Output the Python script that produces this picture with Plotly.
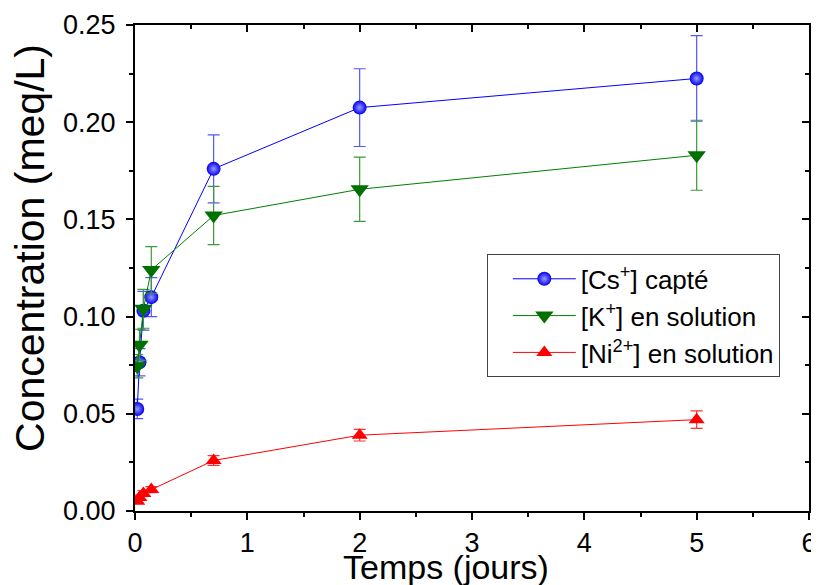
import plotly.graph_objects as go

# Data
time_days = [0.02, 0.04, 0.075, 0.145, 0.70, 2.0, 5.0]
cs_capte = [0.0525, 0.0765, 0.103, 0.110, 0.176, 0.2075, 0.2225]
cs_err = [0.005, 0.007, 0.010, 0.010, 0.0175, 0.020, 0.022]
k_solution = [0.0745, 0.0855, 0.104, 0.124, 0.152, 0.1655, 0.183]
k_err = [0.006, 0.008, 0.010, 0.012, 0.015, 0.0165, 0.018]
ni_solution = [0.005, 0.007, 0.009, 0.011, 0.026, 0.039, 0.047]
ni_err = [0.001, 0.0012, 0.0015, 0.0015, 0.0025, 0.003, 0.0045]

x_ticks = [0, 1, 2, 3, 4, 5, 6]
y_ticks = [0.00, 0.05, 0.10, 0.15, 0.20, 0.25]
y_tick_labels = ["0.00", "0.05", "0.10", "0.15", "0.20", "0.25"]
x_title = "Temps (jours)"
y_title = "Concentration (meq/L)"

FONT = "Liberation Sans, Arial, sans-serif"

fig = go.Figure()

fig.add_trace(go.Scatter(
    x=time_days, y=cs_capte, mode="lines+markers",
    name="[Cs<sup>+</sup>] capté",
    line=dict(color="#0000ff", width=1),
    marker=dict(symbol="circle", size=14, color="#0000ee",
                gradient=dict(type="radial", color="#9999ff")),
    error_y=dict(type="data", array=cs_err, visible=True, color="#5555ff",
                 thickness=1.2, width=6),
))
fig.add_trace(go.Scatter(
    x=time_days, y=k_solution, mode="lines+markers",
    name="[K<sup>+</sup>] en solution",
    line=dict(color="#008000", width=1),
    marker=dict(symbol="triangle-down", size=16, color="#007000"),
    error_y=dict(type="data", array=k_err, visible=True, color="#3a9a3a",
                 thickness=1.2, width=6),
))
fig.add_trace(go.Scatter(
    x=time_days, y=ni_solution, mode="lines+markers",
    name="[Ni<sup>2+</sup>] en solution",
    line=dict(color="#ff0000", width=1),
    marker=dict(symbol="triangle-up", size=14, color="#ff0000"),
    error_y=dict(type="data", array=ni_err, visible=True, color="#ff3333",
                 thickness=1.2, width=6),
))

# invisible trace for top/right inward ticks
fig.add_trace(go.Scatter(x=[0], y=[0], xaxis="x2", yaxis="y2",
                         mode="markers", marker=dict(opacity=0),
                         showlegend=False, hoverinfo="skip"))

axis_common = dict(showgrid=False, zeroline=False, showline=True,
                   linecolor="black", linewidth=2, ticklen=7, tickwidth=2,
                   tickcolor="black", automargin=False)

# The page body has an 8px margin, so the figure is sized to fit the window.
fig.update_layout(
    width=811, height=577,
    margin=dict(l=127, r=10, t=17, b=74),
    paper_bgcolor="white", plot_bgcolor="white",
    font=dict(family=FONT, color="black"),
    xaxis=dict(range=[0, 6], tickvals=x_ticks, ticks="outside",
               tickfont=dict(size=27), ticklabelstandoff=0,
               minor=dict(ticks="outside", ticklen=4, tickwidth=2,
                          tickcolor="black", dtick=0.5),
               **axis_common),
    yaxis=dict(range=[0, 0.25], tickvals=y_ticks, ticktext=y_tick_labels,
               ticks="outside", tickfont=dict(size=27), ticklabelstandoff=5,
               minor=dict(ticks="outside", ticklen=4, tickwidth=2,
                          tickcolor="black", dtick=0.025),
               **axis_common),
    xaxis2=dict(range=[0, 6], overlaying="x", side="top", tickvals=x_ticks,
                ticks="inside", showticklabels=False, anchor="y",
                minor=dict(ticks="inside", ticklen=4, tickwidth=2,
                           tickcolor="black", dtick=0.5),
                **axis_common),
    yaxis2=dict(range=[0, 0.25], overlaying="y", side="right", tickvals=y_ticks,
                ticks="inside", showticklabels=False, anchor="x",
                minor=dict(ticks="inside", ticklen=4, tickwidth=2,
                           tickcolor="black", dtick=0.025),
                **axis_common),
    legend=dict(x=0.522, y=0.528, xanchor="left", yanchor="top",
                bgcolor="white", bordercolor="#444444", borderwidth=1,
                font=dict(size=26, family=FONT), tracegroupgap=0,
                itemwidth=63, indentation=20),
    showlegend=True,
    annotations=[
        dict(text=x_title, xref="paper", yref="paper", x=0.461, y=-0.115,
             xanchor="center", yanchor="middle", showarrow=False,
             font=dict(size=34, family=FONT)),
        dict(text=y_title, xref="paper", yref="paper", x=-0.156, y=0.541,
             xanchor="center", yanchor="middle", showarrow=False,
             textangle=-90, font=dict(size=41, family=FONT)),
    ],
)

fig.write_html("out.html")
